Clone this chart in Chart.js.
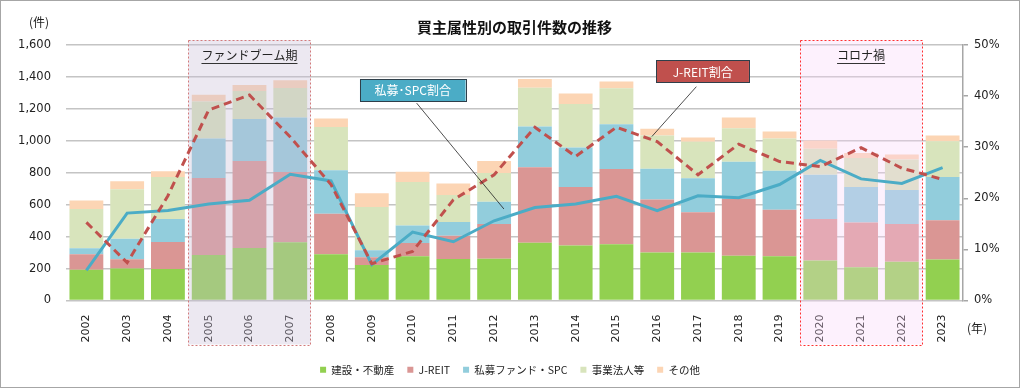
<!DOCTYPE html>
<html>
<head>
<meta charset="utf-8">
<script src="https://cdn.jsdelivr.net/npm/chart.js@4"></script>
<style>
  html, body { margin: 0; padding: 0; background: #fff; }
</style>
</head>
<body>
<canvas id="dealChart" width="1020" height="388"></canvas>
<script>
// 年 (categories)
const years = ['2002','2003','2004','2005','2006','2007','2008','2009','2010','2011','2012',
               '2013','2014','2015','2016','2017','2018','2019','2020','2021','2022','2023'];

// 買主属性別 件数 (stacked bars)
const kensetsu = [192,200,198,285,329,365,290,223,277,260,262,362,344,352,300,300,281,277,250,208,242,256];
const jreit    = [98,58,169,482,544,439,254,48,83,146,217,473,366,471,333,252,354,292,260,280,237,246];
const shibo    = [37,129,143,247,264,342,271,44,109,86,140,255,248,281,192,213,234,243,278,222,213,271];
const jigyo    = [246,309,263,232,175,185,272,270,273,168,179,243,273,225,208,229,210,203,162,182,191,225];
const sonota   = [54,50,37,43,38,48,53,86,64,73,75,54,65,42,42,27,67,43,52,31,32,35];

// 割合 (%), right axis
const shiboShare = [5.9,17.1,17.6,18.9,19.6,24.7,23.4,7.0,13.4,11.5,15.6,18.2,18.9,20.4,17.6,20.5,20.1,22.7,27.4,23.8,22.9,26.0];
const jreitShare = [15.3,7.4,20.5,37.3,40.2,32.0,22.7,7.2,9.6,19.7,24.6,33.9,28.2,33.9,31.1,24.6,30.6,27.2,26.2,29.9,25.9,23.7];

// axis ticks
const countTicks = [0,200,400,600,800,1000,1200,1400,1600];
const shareTicks = [0,10,20,30,40,50];

const NUM_FONT = "'DejaVu Sans', 'Noto Sans CJK JP', sans-serif";
const JP_FONT = "'Noto Sans CJK JP', 'DejaVu Sans', sans-serif";

// shaded periods and call-out labels
const periods = [
    { from: '2005', to: '2007', label: 'ファンドブーム期', fill: 'rgba(200,188,216,0.35)', border: '#d27a7a' },
    { from: '2020', to: '2022', label: 'コロナ禍', fill: 'rgba(248,212,248,0.32)', border: '#ff3030' }
];
const callouts = [
    { text: '私募･SPC割合', fill: '#4bacc6', box: [6.71, 9.30, 1386, 1246], line: [8.10, 1236, 10.24, 573] },
    { text: 'J-REIT割合', fill: '#c0504d', box: [13.98, 16.25, 1504, 1364], line: [14.96, 1339, 13.87, 1027] }
];

function drawPeriods(chart) {
    const ctx = chart.ctx;
    const xs = chart.scales.x;
    const area = chart.chartArea;
    periods.forEach(function (p) {
        const i0 = years.indexOf(p.from), i1 = years.indexOf(p.to);
        const left = xs.getPixelForValue(i0 - 0.5);
        const right = xs.getPixelForValue(i1 + 0.5);
        const top = area.top - 5;
        const bottom = area.bottom + 44;
        ctx.save();
        ctx.fillStyle = p.fill;
        ctx.fillRect(left, top, right - left, bottom - top);
        ctx.strokeStyle = p.border;
        ctx.lineWidth = 1;
        ctx.setLineDash([2, 2]);
        ctx.strokeRect(Math.round(left) + 0.5, Math.round(top) + 0.5, Math.round(right - left), Math.round(bottom - top));
        ctx.setLineDash([]);
        // label with underline
        const cx = xs.getPixelForValue((i0 + i1) / 2);
        const ty = area.top + 10;
        ctx.font = '12px ' + JP_FONT;
        ctx.fillStyle = '#222';
        ctx.textAlign = 'center';
        ctx.textBaseline = 'middle';
        ctx.fillText(p.label, cx, ty);
        const w = ctx.measureText(p.label).width;
        ctx.strokeStyle = '#333';
        ctx.beginPath();
        ctx.moveTo(cx - w / 2, ty + 8.5);
        ctx.lineTo(cx + w / 2, ty + 8.5);
        ctx.stroke();
        ctx.restore();
    });
}

function drawCallouts(chart) {
    const ctx = chart.ctx;
    const xs = chart.scales.x, ys = chart.scales.y;
    callouts.forEach(function (c) {
        ctx.save();
        ctx.strokeStyle = '#222';
        ctx.lineWidth = 0.8;
        ctx.beginPath();
        ctx.moveTo(xs.getPixelForValue(c.line[0]), ys.getPixelForValue(c.line[1]));
        ctx.lineTo(xs.getPixelForValue(c.line[2]), ys.getPixelForValue(c.line[3]));
        ctx.stroke();
        const x1 = xs.getPixelForValue(c.box[0]), x2 = xs.getPixelForValue(c.box[1]);
        const y1 = ys.getPixelForValue(c.box[2]), y2 = ys.getPixelForValue(c.box[3]);
        ctx.fillStyle = c.fill;
        ctx.fillRect(x1, y1, x2 - x1, y2 - y1);
        ctx.strokeStyle = '#2f3f4a';
        ctx.lineWidth = 1;
        ctx.strokeRect(Math.round(x1) + 0.5, Math.round(y1) + 0.5, Math.round(x2 - x1), Math.round(y2 - y1));
        ctx.font = '12px ' + JP_FONT;
        ctx.fillStyle = '#fff';
        ctx.textAlign = 'center';
        ctx.textBaseline = 'middle';
        ctx.fillText(c.text, (x1 + x2) / 2, (y1 + y2) / 2 + 0.5);
        ctx.restore();
    });
}

const overlayPlugin = {
    id: 'overlays',
    beforeDatasetsDraw(chart) { chart.$shaded = false; },
    beforeDatasetDraw(chart, args) {
        // shade periods after the bars, before the lines
        if (args.meta.type === 'line' && !chart.$shaded) {
            drawPeriods(chart);
            chart.$shaded = true;
        }
    },
    afterDraw(chart) {
        const ctx = chart.ctx;
        const area = chart.chartArea;
        drawCallouts(chart);
        ctx.save();
        ctx.font = '12px ' + JP_FONT;
        ctx.fillStyle = '#222';
        ctx.textBaseline = 'middle';
        ctx.textAlign = 'left';
        ctx.fillText('(件)', 29, area.top - 23);
        ctx.fillText('(年)', area.right + 4, area.bottom + 28);
        ctx.strokeStyle = '#a6a6a6';
        ctx.lineWidth = 1;
        ctx.strokeRect(0.5, 0.5, chart.width - 1, chart.height - 1);
        ctx.restore();
    }
};

function barSet(label, data, color) {
    return {
        type: 'bar', label: label, data: data, backgroundColor: color,
        borderWidth: 0, yAxisID: 'y', stack: 'k', order: 1,
        barPercentage: 0.83, categoryPercentage: 1.0
    };
}

const ctx = document.getElementById('dealChart').getContext('2d');
new Chart(ctx, {
    data: {
        labels: years,
        datasets: [
            barSet('建設・不動産', kensetsu, '#92d050'),
            barSet('J-REIT', jreit, '#da9694'),
            barSet('私募ファンド・SPC', shibo, '#92cddc'),
            barSet('事業法人等', jigyo, '#d8e4bc'),
            barSet('その他', sonota, '#fcd5b4'),
            {
                type: 'line', label: 'J-REIT割合', data: jreitShare, yAxisID: 'y2', order: 0,
                borderColor: '#c0504d', borderWidth: 3, borderDash: [8, 5], pointRadius: 0, tension: 0, fill: false
            },
            {
                type: 'line', label: '私募・SPC割合', data: shiboShare, yAxisID: 'y2', order: 0,
                borderColor: '#4bacc6', borderWidth: 3, pointRadius: 0, tension: 0, fill: false
            }
        ]
    },
    options: {
        responsive: false,
        devicePixelRatio: 1,
        animation: false,
        layout: { padding: { top: 0, bottom: 3, left: 0, right: 0 } },
        plugins: {
            title: {
                display: true,
                text: '買主属性別の取引件数の推移',
                fullSize: false,
                color: '#111',
                font: { size: 15, weight: 'bold', family: JP_FONT },
                padding: { top: 18, bottom: 9 }
            },
            legend: {
                position: 'bottom',
                labels: {
                    filter: item => item.datasetIndex < 5,
                    boxWidth: 6, boxHeight: 6, padding: 13,
                    color: '#222',
                    font: { size: 10.5, family: JP_FONT }
                }
            },
            tooltip: { enabled: false }
        },
        scales: {
            x: {
                stacked: true,
                grid: { display: false },
                border: { display: false },
                ticks: {
                    minRotation: 90, maxRotation: 90, padding: 6, autoSkip: false,
                    color: '#222', font: { size: 11, family: NUM_FONT }
                },
                afterFit: s => { s.height = 51; }
            },
            y: {
                position: 'left',
                stacked: true,
                min: 0, max: 1600,
                afterBuildTicks: s => { s.ticks = countTicks.map(v => ({ value: v })); },
                grid: { color: '#c4c4c4', lineWidth: 1.5, drawTicks: false },
                border: { display: false },
                ticks: {
                    padding: 15, color: '#222', font: { size: 11.5, family: NUM_FONT },
                    callback: v => v.toLocaleString('en-US')
                },
                afterFit: s => { s.width = 66; }
            },
            y2: {
                position: 'right',
                min: 0, max: 50,
                afterBuildTicks: s => { s.ticks = shareTicks.map(v => ({ value: v })); },
                grid: { drawOnChartArea: false, drawTicks: true, tickLength: 5, color: '#a6a6a6', lineWidth: 1.5 },
                border: { display: true, color: '#a6a6a6', width: 1.5 },
                ticks: {
                    padding: 6, color: '#222', font: { size: 11.5, family: NUM_FONT },
                    callback: v => v + '%'
                },
                afterFit: s => { s.width = 57; }
            }
        }
    },
    plugins: [overlayPlugin]
});
</script>
</body>
</html>
